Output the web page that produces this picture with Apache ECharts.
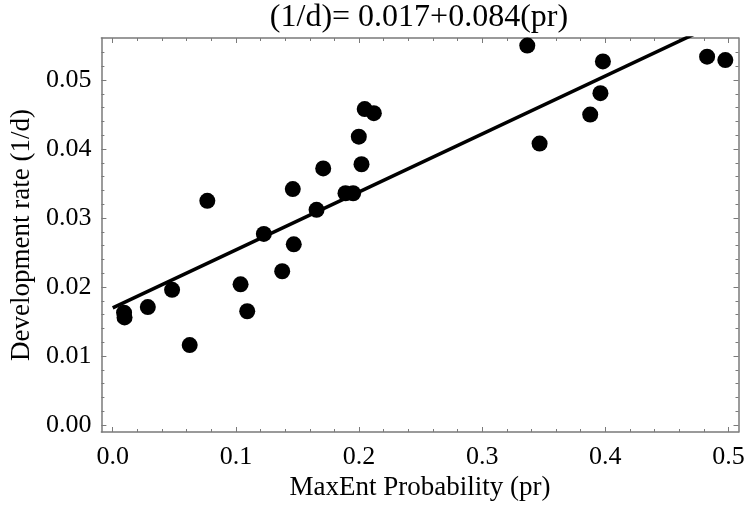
<!DOCTYPE html>
<html>
<head>
<meta charset="utf-8">
<script src="https://cdn.jsdelivr.net/npm/echarts@6/dist/echarts.min.js"></script>
<style>html,body{margin:0;padding:0;background:#fff}#c{width:756px;height:515px}</style>
</head>
<body>
<div id="c"></div>
<script>
// Data
const prValues = [0.0092, 0.0096, 0.0285, 0.0482, 0.0625, 0.0768, 0.1038, 0.1092, 0.1227, 0.1376,
  0.1462, 0.1470, 0.1655, 0.1709, 0.1890, 0.1952, 0.1998, 0.2020, 0.2046, 0.2120,
  0.3366, 0.3466, 0.3877, 0.3960, 0.3980, 0.4826, 0.4974];
const rateValues = [0.0163, 0.0156, 0.0171, 0.0196, 0.0116, 0.0325, 0.0204, 0.0165, 0.0277, 0.0223,
  0.0342, 0.0262, 0.0312, 0.0372, 0.0336, 0.0336, 0.0418, 0.0378, 0.0458, 0.0452,
  0.0550, 0.0408, 0.0450, 0.0481, 0.0527, 0.0534, 0.0529];
const intercept = 0.017;
const slope = 0.084;
const fitRange = [0, 0.5];
const xMajorTicks = [0, 0.1, 0.2, 0.3, 0.4, 0.5];
const xMinorTicks = [0.02, 0.04, 0.06, 0.08, 0.12, 0.14, 0.16, 0.18, 0.22, 0.24, 0.26, 0.28,
  0.32, 0.34, 0.36, 0.38, 0.42, 0.44, 0.46, 0.48];
const yMajorTicks = [0, 0.01, 0.02, 0.03, 0.04, 0.05];
const yMinorTicks = [0.002, 0.004, 0.006, 0.008, 0.012, 0.014, 0.016, 0.018, 0.022, 0.024, 0.026, 0.028,
  0.032, 0.034, 0.036, 0.038, 0.042, 0.044, 0.046, 0.048, 0.052, 0.054];
const titleText = '(1/d)= 0.017+0.084(pr)';
const xName = 'MaxEnt Probability (pr)';
const yName = 'Development rate (1/d)';

const FONT = "'Liberation Serif', 'Times New Roman', serif";
const X_MIN = -0.0092, X_MAX = 0.5081, Y_MIN = -0.0010, Y_MAX = 0.0561;
const GRAY = '#7a7a7a';

const points = prValues.map((x, i) => [x, rateValues[i]]);
const fitLine = fitRange.map(x => [x, intercept + slope * x]);

function xAx(pos, ticks, len, withLabels, withLine) {
  return {
    type: 'value', position: pos, min: X_MIN, max: X_MAX,
    splitLine: {show: false},
    axisLine: {show: withLine, onZero: false, lineStyle: {color: GRAY, width: 1.5}},
    axisTick: {show: true, inside: true, length: len, customValues: ticks, lineStyle: {color: GRAY, width: 1}},
    axisLabel: withLabels ? {show: true, customValues: ticks, margin: 12, color: '#000', fontFamily: FONT, fontSize: 26,
      formatter: v => v.toFixed(1)} : {show: false},
    name: withLabels ? xName : '', nameLocation: 'middle', nameGap: 37,
    nameTextStyle: {color: '#000', fontFamily: FONT, fontSize: 27}
  };
}
function yAx(pos, ticks, len, withLabels, withLine) {
  return {
    type: 'value', position: pos, min: Y_MIN, max: Y_MAX,
    splitLine: {show: false},
    axisLine: {show: withLine, onZero: false, lineStyle: {color: GRAY, width: 1.5}},
    axisTick: {show: true, inside: true, length: len, customValues: ticks, lineStyle: {color: GRAY, width: 1}},
    axisLabel: withLabels ? {show: true, customValues: ticks, margin: 10, color: '#000', fontFamily: FONT, fontSize: 26,
      formatter: v => v.toFixed(2)} : {show: false},
    name: withLabels ? yName : '', nameLocation: 'middle', nameGap: 66,
    nameTextStyle: {color: '#000', fontFamily: FONT, fontSize: 27}
  };
}

const chart = echarts.init(document.getElementById('c'), null, {renderer: 'canvas'});
chart.setOption({
  animation: false,
  backgroundColor: '#fff',
  textStyle: {fontFamily: FONT},
  grid: {left: 101, top: 38, right: 17.5, bottom: 83, containLabel: false},
  graphic: [{
    type: 'text', x: 419, y: 18,
    style: {text: titleText, fontFamily: FONT, fontSize: 32, fill: '#000', textAlign: 'center', textVerticalAlign: 'middle'}
  }],
  xAxis: [
    xAx('bottom', xMajorTicks, 5, true, true),
    xAx('top', xMajorTicks, 5, false, true),
    xAx('bottom', xMinorTicks, 3, false, false),
    xAx('top', xMinorTicks, 3, false, false)
  ],
  yAxis: [
    yAx('left', yMajorTicks, 5, true, true),
    yAx('right', yMajorTicks, 5, false, true),
    yAx('left', yMinorTicks, 3, false, false),
    yAx('right', yMinorTicks, 3, false, false)
  ],
  series: [
    {type: 'line', xAxisIndex: 0, yAxisIndex: 0, data: fitLine, showSymbol: false, clip: true,
      lineStyle: {color: '#000', width: 3.5}, z: 2},
    {type: 'scatter', xAxisIndex: 0, yAxisIndex: 0, data: points, symbol: 'circle', symbolSize: 16,
      itemStyle: {color: '#000', opacity: 1}, clip: false, z: 3}
  ]
});
</script>
</body>
</html>
